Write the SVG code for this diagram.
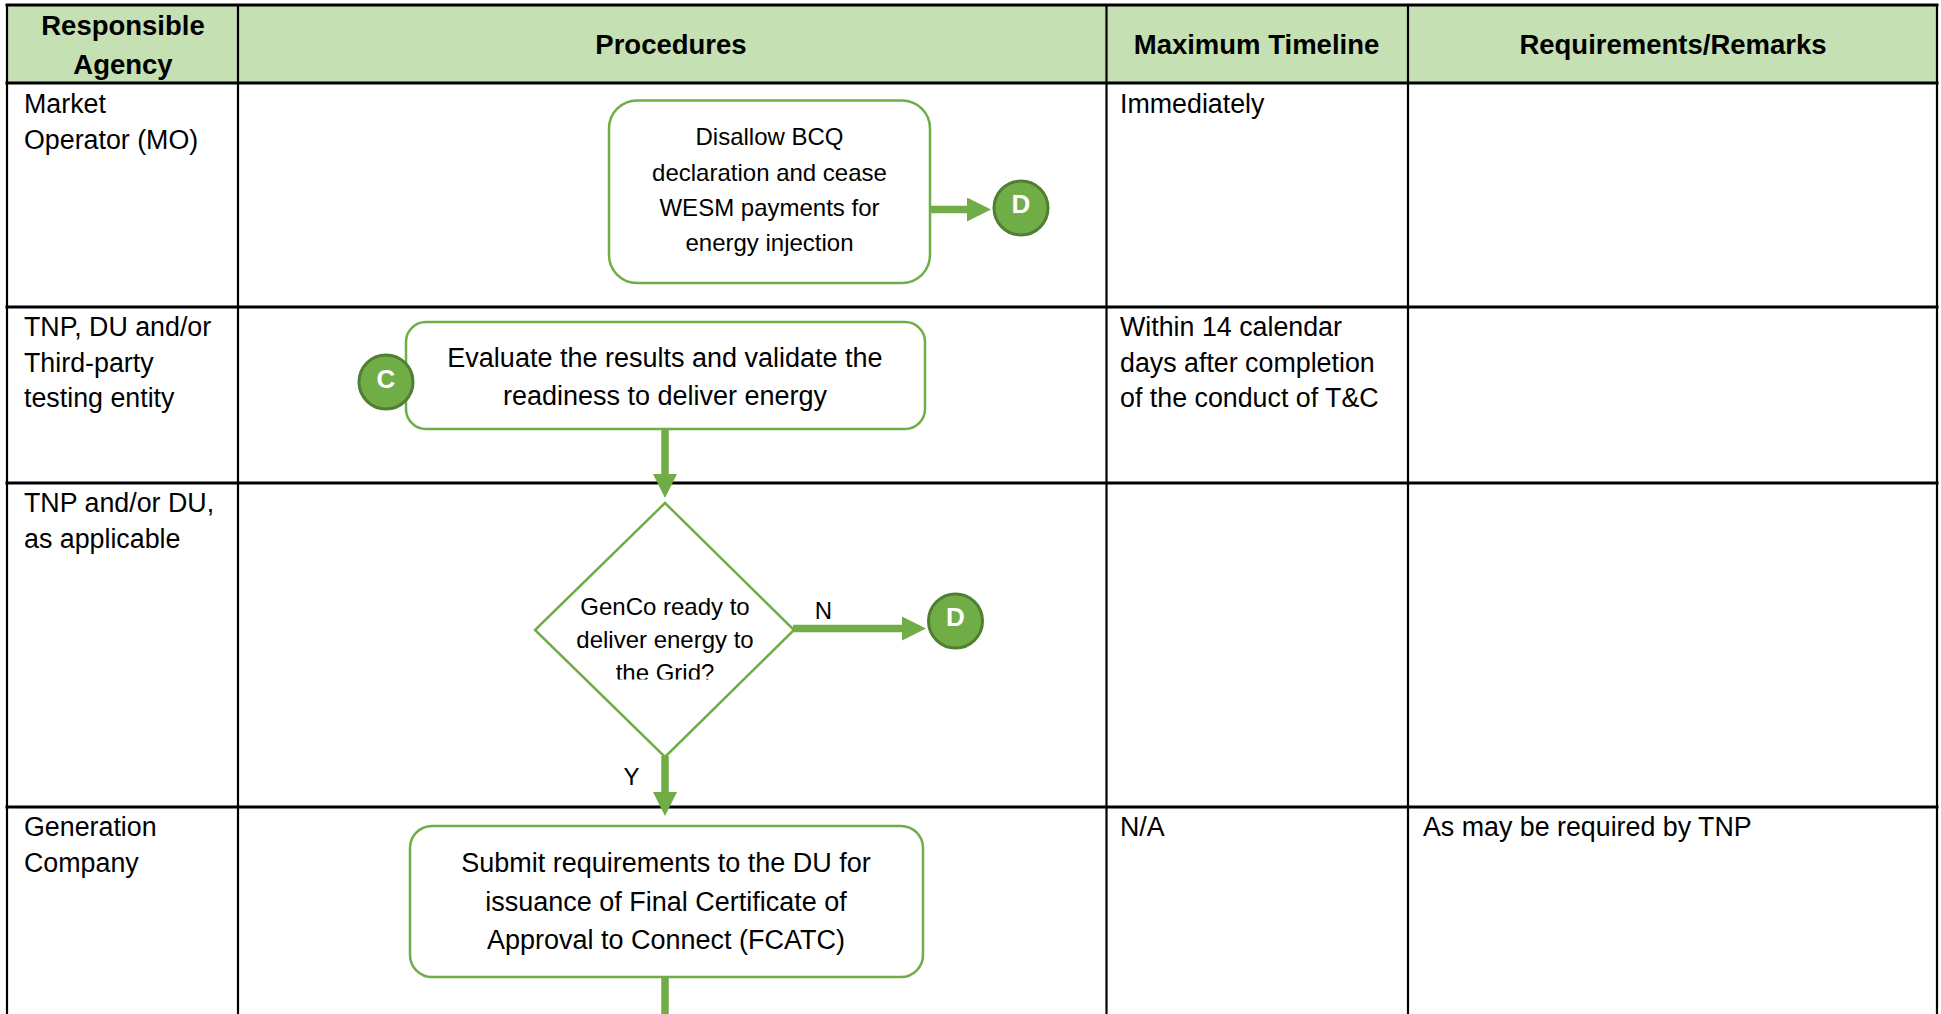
<svg xmlns="http://www.w3.org/2000/svg" width="1941" height="1014" viewBox="0 0 1941 1014">
<style>
  .hdr { font-family: "Liberation Sans", Arial, sans-serif; font-weight: bold; font-size: 27.5px; fill: #000; text-anchor: middle; }
  .cell { font-family: "Liberation Sans", Arial, sans-serif; font-size: 26.8px; fill: #000; }
  .box { fill: #fff; stroke: #70AD47; stroke-width: 2.5; }
  .btxt { font-family: "Liberation Sans", Arial, sans-serif; font-size: 27px; fill: #000; text-anchor: middle; }
  .stxt { font-family: "Liberation Sans", Arial, sans-serif; font-size: 24px; fill: #000; text-anchor: middle; }
  .conn { fill: #70AD47; stroke: #507E32; stroke-width: 3; }
  .ctxt { font-family: "Liberation Sans", Arial, sans-serif; font-weight: bold; font-size: 26px; fill: #fff; text-anchor: middle; }
  .hl { stroke: #000; stroke-width: 3; fill: none; }
  .vl { stroke: #000; stroke-width: 2.2; fill: none; }
  .edge { stroke: #70AD47; stroke-width: 7.5; fill: none; }
  .lbl { font-family: "Liberation Sans", Arial, sans-serif; font-size: 24px; fill: #000; text-anchor: middle; }
</style>
<defs>
  <marker id="ah" markerUnits="userSpaceOnUse" markerWidth="24" markerHeight="24" refX="0" refY="12" orient="auto" viewBox="0 0 24 24">
    <path d="M0,0 L24,12 L0,24 Z" fill="#70AD47"/>
  </marker>
  <clipPath id="dclip">
    <rect x="540" y="590" width="250" height="89.5"/>
  </clipPath>
</defs>
<rect x="0" y="0" width="1941" height="1014" fill="#fff"/>

<g id="table">
  <rect x="7" y="5" width="1930" height="78" fill="#C5E0B3"/>
  <line class="hl" x1="5.5" y1="5" x2="1938.5" y2="5"/>
  <line class="hl" x1="5.5" y1="83" x2="1938.5" y2="83"/>
  <line class="hl" x1="5.5" y1="307" x2="1938.5" y2="307"/>
  <line class="hl" x1="5.5" y1="483" x2="1938.5" y2="483"/>
  <line class="hl" x1="5.5" y1="807" x2="1938.5" y2="807"/>
  <line class="vl" x1="7" y1="5" x2="7" y2="1014"/>
  <line class="vl" x1="238" y1="5" x2="238" y2="1014"/>
  <line class="vl" x1="1106.5" y1="5" x2="1106.5" y2="1014"/>
  <line class="vl" x1="1408" y1="5" x2="1408" y2="1014"/>
  <line class="vl" x1="1937" y1="5" x2="1937" y2="1014"/>
  <text class="hdr" x="123" y="35">Responsible</text>
  <text class="hdr" x="123" y="73.5">Agency</text>
  <text class="hdr" x="671" y="53.5">Procedures</text>
  <text class="hdr" x="1256.5" y="53.5">Maximum Timeline</text>
  <text class="hdr" x="1673" y="53.5">Requirements/Remarks</text>
</g>

<g id="lane-texts">
  <text class="cell" x="24" y="113">Market</text>
  <text class="cell" x="24" y="148.5">Operator (MO)</text>
  <text class="cell" x="1120" y="113">Immediately</text>

  <text class="cell" x="24" y="336">TNP, DU and/or</text>
  <text class="cell" x="24" y="371.5">Third-party</text>
  <text class="cell" x="24" y="407">testing entity</text>
  <text class="cell" x="1120" y="336">Within 14 calendar</text>
  <text class="cell" x="1120" y="371.5">days after completion</text>
  <text class="cell" x="1120" y="407">of the conduct of T&amp;C</text>

  <text class="cell" x="24" y="512">TNP and/or DU,</text>
  <text class="cell" x="24" y="547.5">as applicable</text>

  <text class="cell" x="24" y="836">Generation</text>
  <text class="cell" x="24" y="871.5">Company</text>
  <text class="cell" x="1120" y="836">N/A</text>
  <text class="cell" x="1423" y="836">As may be required by TNP</text>
</g>

<g id="connectors">
  <path class="edge" d="M930,209.5 H967" marker-end="url(#ah)"/>
  <path class="edge" d="M665,429 V474" marker-end="url(#ah)"/>
  <path class="edge" d="M793,628.5 H902" marker-end="url(#ah)"/>
  <path class="edge" d="M665,756 V792" marker-end="url(#ah)"/>
  <path class="edge" d="M665,977 V1014"/>
  <text class="lbl" x="823.5" y="619">N</text>
  <text class="lbl" x="631.5" y="785">Y</text>
</g>

<g id="node-disallow">
  <rect class="box" x="609" y="100.5" width="321" height="182.5" rx="28" ry="28"/>
  <text class="stxt" x="769.5" y="145">Disallow BCQ</text>
  <text class="stxt" x="769.5" y="180.5">declaration and cease</text>
  <text class="stxt" x="769.5" y="216">WESM payments for</text>
  <text class="stxt" x="769.5" y="251">energy injection</text>
</g>

<g id="node-d1">
  <circle class="conn" cx="1021" cy="208" r="27"/>
  <text class="ctxt" x="1021" y="213">D</text>
</g>

<g id="node-evaluate">
  <rect class="box" x="406" y="322" width="519" height="107" rx="20" ry="20"/>
  <text class="btxt" x="665" y="366.5">Evaluate the results and validate the</text>
  <text class="btxt" x="665" y="405">readiness to deliver energy</text>
</g>

<g id="node-c">
  <circle class="conn" cx="386" cy="382" r="27"/>
  <text class="ctxt" x="386" y="388">C</text>
</g>

<g id="node-decision">
  <polygon class="box" points="665,503 794,630 665,757 535,630"/>
  <text class="stxt" x="665" y="615">GenCo ready to</text>
  <text class="stxt" x="665" y="647.5">deliver energy to</text>
  <text class="stxt" x="665" y="681" clip-path="url(#dclip)">the Grid?</text>
</g>

<g id="node-d2">
  <circle class="conn" cx="955.5" cy="621" r="27"/>
  <text class="ctxt" x="955.5" y="626">D</text>
</g>

<g id="node-submit">
  <rect class="box" x="410" y="826" width="513" height="151" rx="22" ry="22"/>
  <text class="btxt" x="666" y="872">Submit requirements to the DU for</text>
  <text class="btxt" x="666" y="910.5">issuance of Final Certificate of</text>
  <text class="btxt" x="666" y="949">Approval to Connect (FCATC)</text>
</g>
</svg>
